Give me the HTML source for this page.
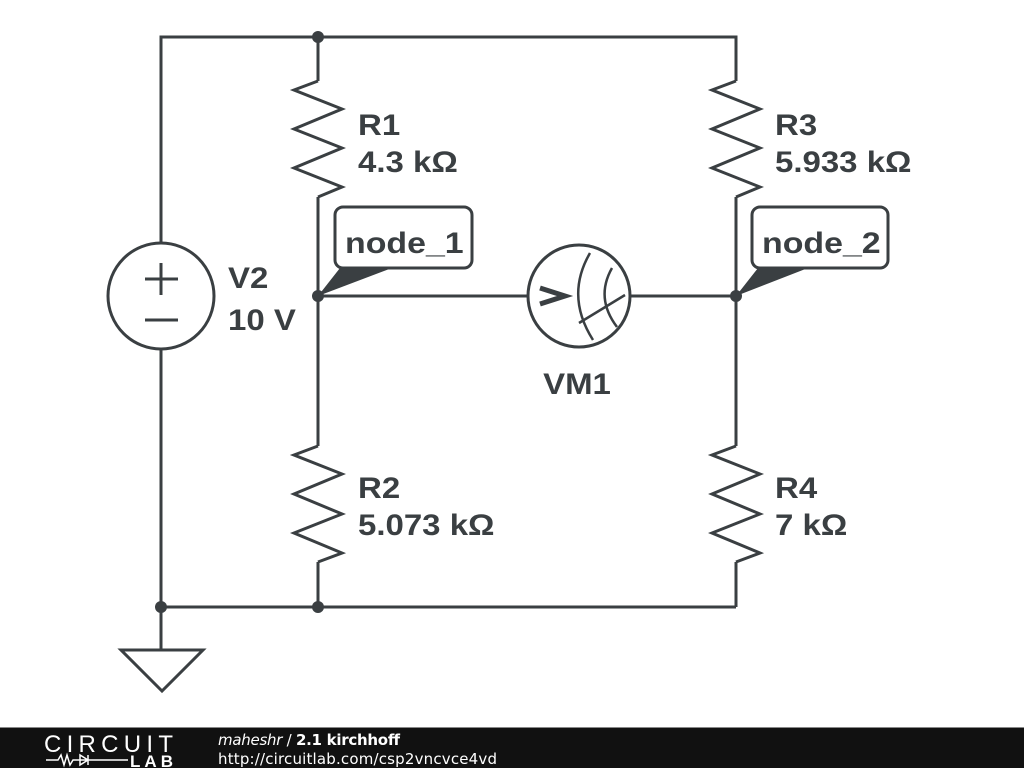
<!DOCTYPE html>
<html><head><meta charset="utf-8"><style>
html,body{margin:0;padding:0;background:#fff;width:1024px;height:768px;overflow:hidden}
svg{display:block}
text{font-family:"Liberation Sans",sans-serif;font-weight:bold;fill:#3a3f42}
</style></head><body>
<svg width="1024" height="768" viewBox="0 0 1024 768">
<g stroke="#3a3f42" stroke-width="3" fill="none" stroke-linejoin="miter">
<polyline points="161,242 161,37 736,37 736,81"/>
<line x1="318" y1="37" x2="318" y2="81"/>
<line x1="318" y1="197" x2="318" y2="446"/>
<line x1="736" y1="197" x2="736" y2="446"/>
<line x1="318" y1="562" x2="318" y2="607"/>
<line x1="736" y1="562" x2="736" y2="607"/>
<line x1="161" y1="350" x2="161" y2="650"/>
<line x1="161" y1="607" x2="736" y2="607"/>
<line x1="318" y1="296" x2="528" y2="296"/>
<line x1="630" y1="296" x2="736" y2="296"/>
<polyline points="318,81 294,90 342,109 294,129 342,148 294,168 342,187 318,197"/>
<polyline points="736,81 712,90 760,109 712,129 760,148 712,168 760,187 736,197"/>
<polyline points="318,446 294,455 342,474 294,494 342,514 294,533 342,553 318,562"/>
<polyline points="736,446 712,455 760,474 712,494 760,514 712,533 760,553 736,562"/>
<circle cx="161" cy="296" r="53"/>
<line x1="145" y1="279" x2="178" y2="279"/>
<line x1="161" y1="263" x2="161" y2="295"/>
<line x1="145" y1="320" x2="178" y2="320"/>
<polygon points="121,650 203,650 162,691"/>
<circle cx="579" cy="296" r="51"/>
<path d="M590,253 Q565,296 593,340" stroke-width="2.5"/>
<path d="M612,268 Q595,298 617,327" stroke-width="2.5"/>
<line x1="579" y1="323" x2="625" y2="295" stroke-width="2.5"/>
<polyline points="540,288 565,296 540,304" stroke-width="5"/>
<rect x="335" y="207" width="137" height="61" rx="8" fill="#fff"/>
<rect x="752" y="207" width="136" height="61" rx="8" fill="#fff"/>
</g>
<g fill="#3a3f42">
<polygon points="318,296 340,268 392,268"/>
<polygon points="736,296 758,268 808,268"/>
<circle cx="318" cy="37" r="6"/>
<circle cx="318" cy="296" r="6"/>
<circle cx="736" cy="296" r="6"/>
<circle cx="161" cy="607" r="6"/>
<circle cx="318" cy="607" r="6"/>
</g>
<g font-size="30">
<g transform="translate(358,0) scale(1.1,1)"><text x="0" y="135">R1</text><text x="0" y="172">4.3 kΩ</text><text x="0" y="498">R2</text><text x="0" y="535">5.073 kΩ</text></g>
<g transform="translate(775,0) scale(1.1,1)"><text x="0" y="135">R3</text><text x="0" y="172">5.933 kΩ</text><text x="0" y="498">R4</text><text x="0" y="535">7 kΩ</text></g>
<g transform="translate(228,0) scale(1.1,1)"><text x="0" y="288">V2</text><text x="0" y="330">10 V</text></g>
<g transform="translate(577,0) scale(1.1,1)"><text x="0" y="394" text-anchor="middle">VM1</text></g>
<g transform="translate(345,0) scale(1.13,1)"><text x="0" y="253">node_1</text></g>
<g transform="translate(762,0) scale(1.13,1)"><text x="0" y="253">node_2</text></g>
</g>
<rect x="0" y="727" width="1024" height="41" fill="#111"/>
<rect x="0" y="727" width="1024" height="1" fill="#888"/>
<text x="44" y="752" font-size="24" textLength="129" style="font-weight:normal;fill:#fff">CIRCUIT</text>
<polyline points="46,760 58,760 61,755 64,765 67,755 70,765 73,760 80,760 80,755 88,760 80,765 80,760 128,760" stroke="#fff" stroke-width="1.5" fill="none"/>
<line x1="88" y1="755" x2="88" y2="765" stroke="#fff" stroke-width="1.5"/>
<text x="130" y="767" font-size="17" textLength="43" style="fill:#fff">LAB</text>
<text x="218" y="745" font-size="15" textLength="182" style="fill:#fff;font-weight:normal;font-family:'DejaVu Sans',sans-serif"><tspan font-style="italic">maheshr</tspan> / <tspan font-weight="bold">2.1 kirchhoff</tspan></text>
<text x="218" y="764" font-size="15" textLength="279" style="fill:#fff;font-weight:normal;font-family:'DejaVu Sans',sans-serif">http://circuitlab.com/csp2vncvce4vd</text>
</svg>
</body></html>
